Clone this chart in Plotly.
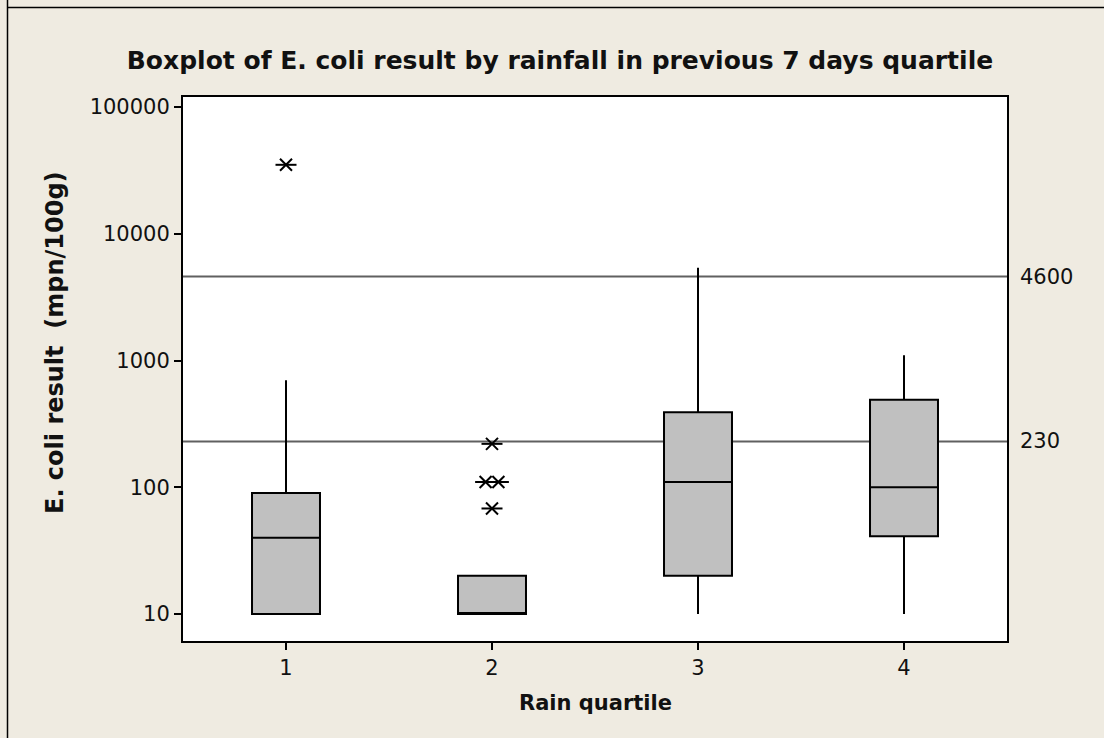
import math
import plotly.graph_objects as go

# ---- data ----
quartiles = [1, 2, 3, 4]
q1_vals = [10, 10, 20, 41]
median_vals = [40, 10, 110, 100]
q3_vals = [90, 20, 390, 490]
lower_whisker = [10, 10, 10, 10]
upper_whisker = [700, 20, 5400, 1100]

outlier_quartile = [1, 2, 2, 2, 2]
outlier_values = [35000, 220, 110, 110, 68]

ref_values = [4600, 230]
ref_labels = ["4600", "230"]

y_tickvals = [10, 100, 1000, 10000, 100000]
y_ticktext = ["10", "100", "1000", "10000", "100000"]

title_text = "Boxplot of E. coli result by rainfall in previous 7 days quartile"
x_title = "Rain quartile"
y_title = "E. coli result\u00a0 (mpn/100g)"

# ---- styling ----
BG = "#EFEBE1"
FONT = "DejaVu Sans"
W, H = 1104, 738
ML, MR, MT, MB = 183, 97, 97, 97

fig = go.Figure()

fig.add_trace(go.Box(
    x=quartiles, q1=q1_vals, median=median_vals, q3=q3_vals,
    lowerfence=lower_whisker, upperfence=upper_whisker,
    fillcolor="#C0C0C0", line=dict(color="black", width=2),
    whiskerwidth=0, width=0.33, boxpoints=False, showlegend=False,
    hoverinfo="skip",
))

# jitter duplicated outliers side by side (as the reference does)
ox = []
seen = {}
for q, v in zip(outlier_quartile, outlier_values):
    n = sum(1 for a, b in zip(outlier_quartile, outlier_values) if a == q and b == v)
    k = seen.get((q, v), 0)
    seen[(q, v)] = k + 1
    off = (k - (n - 1) / 2) * 0.062 if n > 1 else 0.0
    ox.append(q + off)

for sym, size in [("x-thin-open", 12), ("line-ew-open", 15)]:
    fig.add_trace(go.Scatter(
        x=ox, y=outlier_values, mode="markers", showlegend=False,
        marker=dict(symbol=sym, size=size, color="black",
                    line=dict(color="black", width=2)),
        hoverinfo="skip",
    ))

for v, lab in zip(ref_values, ref_labels):
    fig.add_shape(type="line", xref="paper", x0=0, x1=1, yref="y", y0=v, y1=v,
                  line=dict(color="#606060", width=2), layer="below")
    fig.add_annotation(xref="paper", x=1, yref="y", y=math.log10(v),
                       text=lab, showarrow=False, xanchor="left", xshift=11,
                       font=dict(family=FONT, size=21, color="#111111"))

pw = W - ML - MR
ph = H - MT - MB

# axis titles
fig.add_annotation(xref="paper", x=0.5, yref="paper", y=0, yshift=-62,
                   xanchor="center", yanchor="middle",
                   text=f"<b>{x_title}</b>", showarrow=False,
                   font=dict(family=FONT, size=21, color="#111111"))
fig.add_annotation(xref="paper", x=0, xshift=-128, yref="paper",
                   y=(H - MB - 343) / ph,
                   xanchor="center", yanchor="middle",
                   text=f"<b>{y_title}</b>", showarrow=False, textangle=-90,
                   font=dict(family=FONT, size=24, color="#111111"))

# outer frame lines (left and top)
fig.add_shape(type="line", xref="paper", yref="paper",
              x0=(7.5 - ML) / pw, x1=(7.5 - ML) / pw,
              y0=(H - MT) / ph + 1, y1=-MB / ph - 1,
              line=dict(color="black", width=1.5))
fig.add_shape(type="line", xref="paper", yref="paper",
              x0=(7.5 - ML) / pw, x1=2,
              y0=1 + (MT - 7.5) / ph, y1=1 + (MT - 7.5) / ph,
              line=dict(color="black", width=1.5))

fig.update_layout(
    width=W, height=H,
    margin=dict(l=ML, r=MR, t=MT, b=MB),
    paper_bgcolor=BG, plot_bgcolor="white",
    title=dict(text=f"<b>{title_text}</b>", x=560 / W, xanchor="center",
               y=1 - 60 / H, yanchor="middle",
               font=dict(family=FONT, size=25, color="#111111")),
    font=dict(family=FONT, size=21, color="#111111"),
)
fig.update_xaxes(range=[0.5, 4.5], tickvals=quartiles,
                 ticktext=[str(q) for q in quartiles],
                 ticks="outside", ticklen=7, tickwidth=1.5, tickcolor="black",
                 showline=True, linecolor="black", linewidth=2, mirror=True,
                 showgrid=False, zeroline=False)
fig.update_yaxes(type="log", range=[0.787, 5.079], tickvals=y_tickvals,
                 ticktext=y_ticktext,
                 ticks="outside", ticklen=7, tickwidth=1.5, tickcolor="black",
                 showline=True, linecolor="black", linewidth=2, mirror=True,
                 showgrid=False, zeroline=False)

fig.write_html("out.html")
